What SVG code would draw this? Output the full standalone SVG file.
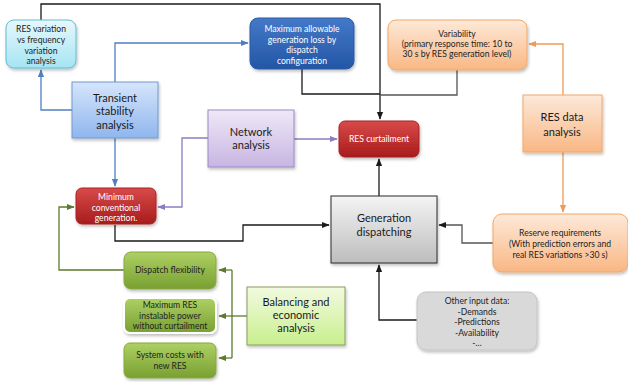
<svg xmlns="http://www.w3.org/2000/svg" width="628" height="382" viewBox="0 0 628 382">
<defs>
<linearGradient id="gCyan" x1="0" y1="0" x2="0" y2="1"><stop offset="0" stop-color="#e6f8fc"/><stop offset="1" stop-color="#a6e4f3"/></linearGradient>
<linearGradient id="gBlue" x1="0" y1="0" x2="0" y2="1"><stop offset="0" stop-color="#d6e5fb"/><stop offset="1" stop-color="#8fb6ee"/></linearGradient>
<linearGradient id="gDark" x1="0" y1="0" x2="0" y2="1"><stop offset="0" stop-color="#4479c8"/><stop offset="1" stop-color="#2456a6"/></linearGradient>
<linearGradient id="gOrange" x1="0" y1="0" x2="0" y2="1"><stop offset="0" stop-color="#fde9d9"/><stop offset="1" stop-color="#f9b784"/></linearGradient>
<linearGradient id="gPurple" x1="0" y1="0" x2="0" y2="1"><stop offset="0" stop-color="#efe8f7"/><stop offset="1" stop-color="#c7b5e2"/></linearGradient>
<linearGradient id="gRed" x1="0" y1="0" x2="0" y2="1"><stop offset="0" stop-color="#d84a4a"/><stop offset="1" stop-color="#a81c1c"/></linearGradient>
<linearGradient id="gGray" x1="0" y1="0" x2="0" y2="1"><stop offset="0" stop-color="#f4f4f4"/><stop offset="1" stop-color="#bdbdbd"/></linearGradient>
<linearGradient id="gGreen" x1="0" y1="0" x2="0" y2="1"><stop offset="0" stop-color="#aed064"/><stop offset="1" stop-color="#78a030"/></linearGradient>
<linearGradient id="gLime" x1="0" y1="0" x2="0" y2="1"><stop offset="0" stop-color="#f2fadf"/><stop offset="1" stop-color="#c9ef8e"/></linearGradient>
<filter id="sh" x="-10%" y="-10%" width="125%" height="130%"><feDropShadow dx="1" dy="2" stdDeviation="1.5" flood-color="#000" flood-opacity="0.25"/></filter>
<marker id="aK" viewBox="0 0 10 10" refX="9" refY="5" markerWidth="6" markerHeight="6" orient="auto"><path d="M0,1 L10,5 L0,9 z" fill="#1a1a1a"/></marker>
<marker id="aB" viewBox="0 0 10 10" refX="9" refY="5" markerWidth="6" markerHeight="6" orient="auto"><path d="M0,1 L10,5 L0,9 z" fill="#4f7fc0"/></marker>
<marker id="aP" viewBox="0 0 10 10" refX="9" refY="5" markerWidth="6" markerHeight="6" orient="auto"><path d="M0,1 L10,5 L0,9 z" fill="#8d7cbf"/></marker>
<marker id="aG" viewBox="0 0 10 10" refX="9" refY="5" markerWidth="6" markerHeight="6" orient="auto"><path d="M0,1 L10,5 L0,9 z" fill="#5e7a2e"/></marker>
<marker id="aO" viewBox="0 0 10 10" refX="9" refY="5" markerWidth="6" markerHeight="6" orient="auto"><path d="M0,1 L10,5 L0,9 z" fill="#ee9a55"/></marker>
</defs>
<style>
text{font-family:Lato,"Open Sans","Liberation Sans",sans-serif;text-anchor:middle;}
.big{font-size:11px;fill:#1a1a1a;}
.sm{font-size:8.6px;fill:#222;}
.wt{font-size:8.6px;fill:#fff;}
.ln{fill:none;stroke-width:1.3;}
.k{stroke:#1a1a1a;}
.b{stroke:#4f7fc0;}
.p{stroke:#8d7cbf;}
.g{stroke:#5e7a2e;}
.o{stroke:#ee9a55;}
.gr{stroke:#555;}
</style>
<rect width="628" height="382" fill="#fff"/>
<g id="connectors">
<path class="ln k" d="M41,20 V4 H380 V119" marker-end="url(#aK)"/>
<path class="ln k" d="M302,69 V94 H380"/>
<path class="ln gr" d="M457,70 V95 H380"/>
<path class="ln b" d="M115,82 V43 H248" marker-end="url(#aB)"/>
<path class="ln b" d="M72,110 H41 V70" marker-end="url(#aB)"/>
<path class="ln b" d="M115,138 V186" marker-end="url(#aB)"/>
<path class="ln p" d="M294,139 H337" marker-end="url(#aP)"/>
<path class="ln p" d="M208,138 H182 V207 H158" marker-end="url(#aP)"/>
<path class="ln g" d="M124,270 H59 V207 H74" marker-end="url(#aG)"/>
<path class="ln g" d="M247,316 H232"/>
<path class="ln g" d="M232,270 V358"/>
<path class="ln g" d="M232,270 H219" marker-end="url(#aG)"/>
<path class="ln g" d="M232,316 H219" marker-end="url(#aG)"/>
<path class="ln g" d="M232,358 H219" marker-end="url(#aG)"/>
<path class="ln k" d="M115,225 V241 H243 V225 H329" marker-end="url(#aK)"/>
<path class="ln k" d="M379,196 V159" marker-end="url(#aK)"/>
<path class="ln gr" d="M493,243 H462 V225 H439" marker-end="url(#aK)"/>
<path class="ln o" d="M563,95 V44 H529" marker-end="url(#aO)"/>
<path class="ln o" d="M563,152 V212" marker-end="url(#aO)"/>
<path class="ln k" d="M417,320 H379 V265" marker-end="url(#aK)"/>
</g>
<g id="n-resvar"><rect x="6" y="20" width="70" height="48" rx="8" fill="url(#gCyan)" stroke="#60bcd4" filter="url(#sh)"/>
<text class="sm" x="41" y="32">RES variation</text><text class="sm" x="41" y="43">vs frequency</text><text class="sm" x="41" y="53.5">variation</text><text class="sm" x="41" y="64">analysis</text></g>
<g id="n-transient"><rect x="72" y="82" width="86" height="56" fill="url(#gBlue)" stroke="#7399cc" filter="url(#sh)"/>
<text class="big" x="115" y="101.5">Transient</text><text class="big" x="115" y="115">stability</text><text class="big" x="115" y="128.5">analysis</text></g>
<g id="n-maxloss"><rect x="250" y="18" width="104" height="51" rx="8" fill="url(#gDark)" stroke="#2a5aa6" filter="url(#sh)"/>
<text class="wt" x="302" y="32">Maximum allowable</text><text class="wt" x="302" y="42.5">generation loss by</text><text class="wt" x="302" y="53">dispatch</text><text class="wt" x="302" y="64">configuration</text></g>
<g id="n-variability"><rect x="388" y="20" width="139" height="50" rx="8" fill="url(#gOrange)" stroke="#f2a868" filter="url(#sh)"/>
<text class="sm" x="457" y="37">Variability</text><text class="sm" x="457" y="47">(primary response time: 10 to</text><text class="sm" x="457" y="57">30 s by RES generation level)</text></g>
<g id="n-resdata"><rect x="523" y="95" width="79" height="57" fill="url(#gOrange)" stroke="#f2a868" filter="url(#sh)"/>
<text class="big" x="562" y="121">RES data</text><text class="big" x="562" y="136">analysis</text></g>
<g id="n-network"><rect x="208" y="110" width="86" height="57" fill="url(#gPurple)" stroke="#9c88c4" filter="url(#sh)"/>
<text class="big" x="251" y="135.5">Network</text><text class="big" x="251" y="149">analysis</text></g>
<g id="n-curtail"><rect x="339" y="121" width="80" height="36" rx="6" fill="url(#gRed)" stroke="#a82222" filter="url(#sh)"/>
<text class="wt" x="379" y="142">RES curtailment</text></g>
<g id="n-minconv"><rect x="76" y="188" width="80" height="36" rx="6" fill="url(#gRed)" stroke="#a82222" filter="url(#sh)"/>
<text class="wt" x="116" y="200">Minimum</text><text class="wt" x="116" y="210.5">conventional</text><text class="wt" x="116" y="221">generation.</text></g>
<g id="n-gendisp"><rect x="331" y="196" width="106" height="67" fill="url(#gGray)" stroke="#2a2a2a" filter="url(#sh)"/>
<text class="big" x="384" y="222">Generation</text><text class="big" x="384" y="236">dispatching</text></g>
<g id="n-reserve"><rect x="493" y="214" width="135" height="58" rx="9" fill="url(#gOrange)" stroke="#f2a868" filter="url(#sh)"/>
<text class="sm" x="560" y="236">Reserve requirements</text><text class="sm" x="560" y="247">(With prediction errors and</text><text class="sm" x="560" y="257.5">real RES variations &gt;30 s)</text></g>
<g id="n-other"><rect x="417" y="292" width="120" height="58" rx="9" fill="#d9d9d9" stroke="#c4c4c4" filter="url(#sh)"/>
<text class="sm" x="477" y="304">Other input data:</text><text class="sm" x="477" y="314.5">-Demands</text><text class="sm" x="477" y="325">-Predictions</text><text class="sm" x="477" y="335.5">-Availability</text><text class="sm" x="477" y="346">-…</text></g>
<g id="n-dispflex"><rect x="124" y="252" width="92" height="37" rx="7" fill="url(#gGreen)" stroke="#86a840" filter="url(#sh)"/>
<text class="sm" x="170" y="273">Dispatch flexibility</text></g>
<g id="n-maxres"><rect x="124" y="298" width="92" height="35" rx="6" fill="url(#gGreen)" stroke="#ffffff" stroke-width="2" filter="url(#sh)"/>
<text class="sm" x="170" y="308">Maximum RES</text><text class="sm" x="170" y="318.5">instalable power</text><text class="sm" x="170" y="329">without curtailment</text></g>
<g id="n-syscost"><rect x="124" y="343" width="92" height="35" rx="6" fill="url(#gGreen)" stroke="#86a840" filter="url(#sh)"/>
<text class="sm" x="170" y="358">System costs with</text><text class="sm" x="170" y="369">new RES</text></g>
<g id="n-balancing"><rect x="247" y="287" width="98" height="58" fill="url(#gLime)" stroke="#8b9a62" filter="url(#sh)"/>
<text class="big" x="296" y="306">Balancing and</text><text class="big" x="296" y="319">economic</text><text class="big" x="296" y="332">analysis</text></g>
</svg>
